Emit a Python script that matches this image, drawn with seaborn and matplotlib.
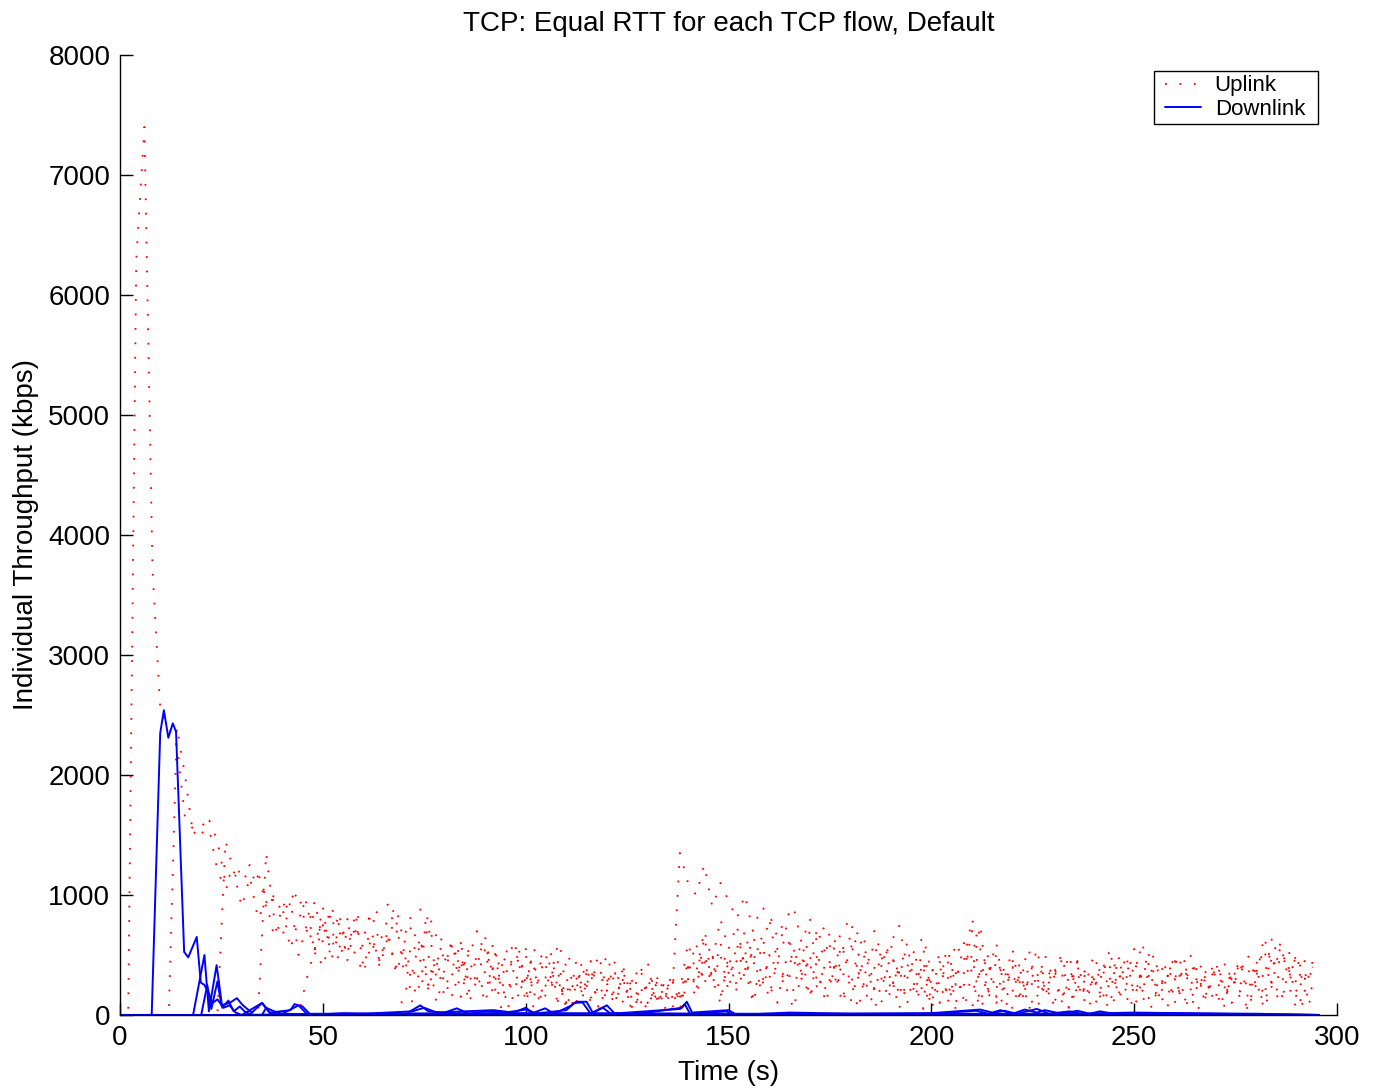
import numpy as np
import pandas as pd
import matplotlib
matplotlib.use("Agg")
import matplotlib.pyplot as plt
import seaborn as sns
from matplotlib.lines import Line2D
from matplotlib.patches import Rectangle

# ---------------- data (kbps), uplink flows sampled every 2 s from t=0 ----------------
UP_STEP = 2

uplink_1 = [
    0, 0, 6300, 7400, 3700, 2500, 2400, 2250, 1650, 1550,
    1500, 1620, 1450, 1100, 1220, 1180, 1250, 1150, 1000, 950,
    900, 1000, 950, 880, 800, 650, 900, 750, 700, 800,
    850, 780, 900, 920, 700, 650, 850, 880, 700, 600,
    650, 550, 600, 480, 700, 500, 550, 400, 600, 450,
    550, 350, 500, 300, 600, 400, 250, 450, 300, 500,
    200, 450, 350, 250, 400, 200, 350, 150, 300, 100,
    400, 250, 500, 300, 600, 350, 450, 700, 400, 650,
    300, 550, 750, 400, 600, 350, 700, 500, 650, 300,
    550, 700, 400, 600, 250, 500, 350, 600, 200, 450,
    100, 350, 550, 250, 600, 350, 750, 200, 450, 300,
    550, 150, 400, 250, 500, 300, 450, 200, 400, 250,
    500, 300, 550, 150, 400, 350, 600, 250, 450, 300,
    500, 200, 400, 350, 300, 450, 200, 400, 250, 350,
    450, 300, 650, 400, 550, 250, 450, 300,
]

uplink_2 = [
    0, 0, 0, 0, 0, 0, 0, 2400, 2000, 1500,
    1600, 1550, 1200, 1050, 1150, 1200, 1100, 1200, 900, 1000,
    850, 950, 1020, 700, 950, 600, 850, 550, 800, 700,
    650, 850, 600, 800, 900, 600, 750, 500, 850, 650,
    450, 600, 350, 550, 450, 650, 300, 500, 400, 600,
    250, 550, 400, 550, 200, 450, 500, 150, 400, 300,
    500, 250, 400, 150, 350, 450, 100, 300, 200, 50,
    300, 150, 450, 250, 500, 200, 600, 300, 550, 200,
    500, 350, 250, 550, 300, 500, 200, 450, 350, 600,
    250, 450, 150, 400, 550, 200, 450, 300, 500, 150,
    400, 250, 450, 100, 350, 700, 300, 500, 150, 400,
    250, 450, 200, 350, 150, 400, 300, 500, 150, 350,
    250, 400, 200, 450, 300, 550, 200, 400, 150, 450,
    300, 500, 200, 350, 150, 400, 300, 200, 450, 150,
    350, 550, 250, 600, 300, 500, 200, 450,
]

uplink_3 = [
    0, 0, 0, 0, 0, 0, 0, 0, 0, 0,
    0, 0, 0, 1450, 1200, 900, 1150, 800, 950, 650,
    900, 550, 800, 950, 500, 750, 600, 850, 450, 750,
    550, 700, 400, 650, 800, 350, 600, 450, 750, 300,
    550, 400, 600, 250, 500, 350, 600, 200, 450, 300,
    500, 150, 400, 250, 450, 100, 350, 250, 450, 150,
    300, 100, 350, 200, 50, 300, 150, 250, 50, 200,
    600, 350, 700, 450, 800, 550, 750, 400, 650, 500,
    800, 450, 650, 550, 350, 700, 450, 600, 250, 500,
    650, 300, 550, 200, 450, 600, 150, 400, 300, 550,
    200, 450, 150, 400, 250, 500, 100, 350, 600, 200,
    400, 100, 300, 550, 200, 350, 100, 300, 450, 150,
    350, 100, 400, 250, 500, 150, 350, 450, 200, 350,
    100, 400, 250, 450, 200, 350, 100, 300, 450, 200,
    400, 150, 500, 250, 400, 150, 350, 200,
]

uplink_4 = [
    0, 0, 0, 0, 0, 0, 0, 0, 0, 0,
    0, 0, 0, 0, 0, 0, 0, 0, 1350, 800,
    650, 950, 500, 750, 550, 900, 450, 700, 500, 850,
    400, 650, 450, 700, 350, 550, 350, 650, 200, 500,
    350, 600, 150, 450, 300, 550, 150, 400, 250, 500,
    100, 350, 200, 450, 100, 300, 200, 400, 100, 250,
    350, 150, 300, 50, 250, 100, 300, 50, 100, 1350,
    1100, 1000, 1250, 900, 1100, 950, 800, 1000, 700, 900,
    850, 650, 800, 900, 600, 800, 650, 750, 550, 700,
    800, 500, 650, 700, 450, 600, 750, 400, 550, 650,
    350, 500, 300, 600, 450, 800, 550, 350, 500, 250,
    450, 350, 550, 200, 400, 300, 500, 250, 450, 350,
    200, 450, 300, 500, 250, 400, 300, 550, 350, 250,
    450, 300, 500, 200, 400, 300, 450, 250, 350, 500,
    300, 650, 400, 550, 350, 500, 300, 400,
]

uplink_5 = [
    0, 0, 0, 0, 0, 0, 0, 0, 0, 0,
    0, 0, 0, 0, 0, 0, 0, 0, 0, 0,
    0, 0, 0, 300, 550, 400, 650, 450, 700, 500,
    350, 600, 450, 650, 400, 550, 100, 400, 250, 450,
    150, 350, 500, 200, 350, 100, 400, 250, 50, 300,
    150, 400, 100, 250, 350, 50, 300, 150, 350, 50,
    250, 350, 100, 300, 150, 50, 250, 100, 350, 50,
    350, 600, 250, 500, 150, 450, 250, 550, 150, 400,
    250, 100, 450, 200, 500, 150, 350, 100, 400, 200,
    100, 350, 250, 50, 300, 150, 400, 100, 250, 50,
    300, 100, 250, 50, 150, 300, 50, 200, 100, 250,
    50, 300, 150, 50, 250, 100, 200, 50, 250, 100,
    300, 150, 50, 200, 100, 300, 150, 50, 250, 150,
    300, 100, 200, 50, 250, 150, 300, 100, 200, 50,
    250, 100, 300, 150, 250, 50, 200, 100,
]

uplink_6 = [
    0, 0, 0, 0, 0, 0, 0, 0, 0, 0,
    0, 0, 0, 0, 0, 0, 0, 0, 0, 0,
    0, 0, 0, 0, 0, 0, 0, 0, 0, 0,
    0, 0, 0, 0, 0, 150, 400, 200, 500, 100,
    350, 150, 450, 100, 300, 200, 400, 50, 250, 150,
    350, 50, 200, 300, 100, 250, 50, 300, 150, 50,
    200, 100, 300, 50, 150, 250, 100, 200, 50, 150,
    450, 200, 650, 300, 100, 500, 200, 400, 100, 350,
    150, 450, 250, 50, 350, 150, 500, 200, 400, 100,
    300, 50, 400, 200, 100, 350, 50, 250, 150, 400,
    50, 250, 100, 350, 150, 50, 400, 150, 250, 50,
    200, 350, 50, 150, 300, 100, 250, 50, 350, 150,
    50, 250, 100, 350, 200, 50, 300, 100, 200, 50,
    250, 150, 50, 300, 100, 200, 50, 350, 150, 50,
    300, 50, 250, 100, 350, 200, 50, 150,
]

# ---------------- downlink flows: (time s, kbps) breakpoints ----------------
down_1_t = [0, 7.8, 9.9, 10.8, 11.9, 13.0, 13.8, 15.8, 16.8, 18.9, 19.9, 20.8, 21.9,
            22.8, 24.0, 25.5, 27.0, 28.5, 30.0, 60, 100, 150, 200, 250, 295.5]
down_1_v = [0, 0, 2350, 2540, 2310, 2430, 2360, 525, 480, 650, 270, 250, 180,
            100, 130, 60, 80, 20, 0, 10, 15, 10, 10, 10, 0]

down_2_t = [0, 18.0, 20.8, 21.9, 23.8, 25.2, 26.7, 28.0, 29.5, 31.0, 33.0, 60, 120, 200, 295.5]
down_2_v = [0, 0, 500, 30, 415, 60, 120, 30, 70, 20, 0, 10, 10, 5, 0]

down_3_t = [0, 20.0, 21.5, 22.5, 24.0, 25.0, 27.0, 28.8, 30.0, 31.0, 32.5, 35.0, 37.0,
            60, 120, 200, 295.5]
down_3_v = [0, 0, 250, 50, 280, 80, 100, 140, 90, 60, 20, 100, 10,
            5, 10, 5, 0]

down_4_t = [0, 30, 33, 35, 37, 42, 43, 45, 47, 55, 70, 72, 74, 76, 80, 83, 86, 90,
            95, 100, 102, 104.8, 107, 111, 112.5, 115, 116.5, 120, 122, 130, 138.5,
            139.7, 141, 150, 152, 165, 180, 200, 212, 215, 217, 220, 223, 226, 228,
            232, 236, 239, 241.5, 245, 260, 280, 295.5]
down_4_v = [0, 0, 60, 100, 20, 40, 90, 70, 0, 15, 0, 40, 80, 30, 20, 55, 10, 30,
            20, 45, 20, 55, 10, 75, 110, 110, 20, 80, 10, 20, 60,
            110, 20, 40, 0, 20, 10, 15, 45, 20, 40, 10, 45, 20, 40,
            10, 35, 10, 30, 10, 15, 10, 0]

down_5_t = [0, 35, 36, 38, 40, 44, 46, 60, 72, 75, 78, 85, 92, 97, 100, 102, 110,
            112, 114, 116, 119, 121, 138, 139.2, 140.5, 149.5, 151, 170, 200, 211,
            214, 218, 221, 226, 229, 234, 237, 250, 270, 295.5]
down_5_v = [0, 0, 60, 30, 10, 80, 10, 10, 30, 60, 20, 30, 40, 20, 60, 10, 40,
            100, 105, 10, 60, 10, 50, 90, 10, 30, 0, 10, 10, 35,
            10, 35, 10, 50, 10, 30, 10, 20, 10, 0]

up_series = {"u1": uplink_1, "u2": uplink_2, "u3": uplink_3, "u4": uplink_4,
             "u5": uplink_5, "u6": uplink_6}
down_series = {"d1": (down_1_t, down_1_v), "d2": (down_2_t, down_2_v),
               "d3": (down_3_t, down_3_v), "d4": (down_4_t, down_4_v),
               "d5": (down_5_t, down_5_v)}

up_frames = []
for name, vals in up_series.items():
    assert len(vals) == 148, (name, len(vals))
    up_frames.append(pd.DataFrame({"time": np.arange(len(vals)) * UP_STEP,
                                   "kbps": vals, "flow": name}))
up_df = pd.concat(up_frames, ignore_index=True)

down_frames = []
for name, (ts, vs) in down_series.items():
    assert len(ts) == len(vs), (name, len(ts), len(vs))
    down_frames.append(pd.DataFrame({"time": ts, "kbps": vs, "flow": name}))
down_df = pd.concat(down_frames, ignore_index=True)

# ---------------- plot ----------------
sns.set_style("ticks")
plt.rcParams['font.family'] = ['Liberation Sans', 'DejaVu Sans']
for k in ["text.color", "axes.labelcolor", "xtick.color", "ytick.color", "axes.edgecolor"]:
    plt.rcParams[k] = "black"

fig = plt.figure(figsize=(13.8, 10.91), dpi=100)
ax = fig.add_axes([0.087, 0.0697, 0.8819, 0.8799])

DOT = (0, (1, 7))
sns.lineplot(data=up_df, x="time", y="kbps", units="flow", estimator=None,
             color="#ff0000", linewidth=1.3, linestyle=DOT, ax=ax, legend=False)
sns.lineplot(data=down_df, x="time", y="kbps", units="flow", estimator=None,
             color="#0000ff", linewidth=1.4, ax=ax, legend=False)

ax.set_xlim(0, 300)
ax.set_ylim(0, 8000)
ax.set_xticks(np.arange(0, 301, 50))
ax.set_yticks(np.arange(0, 8001, 1000))
ax.tick_params(direction="in", length=9, width=1, labelsize=20, pad=7,
               color="black", labelcolor="black")
for s in ["top", "right"]:
    ax.spines[s].set_visible(False)
for s in ["left", "bottom"]:
    ax.spines[s].set_color("black")
    ax.spines[s].set_linewidth(1)

ax.set_title("TCP: Equal RTT for each TCP flow, Default", fontsize=20, pad=17, color="black")
ax.set_xlabel("Time (s)", fontsize=20, labelpad=7, color="black")
ax.set_ylabel("Individual Throughput (kbps)", fontsize=20, labelpad=7, color="black")

h_up = Line2D([], [], color="#ff0000", linewidth=1.3, linestyle=DOT)
h_down = Line2D([], [], color="#0000ff", linewidth=1.4)
leg = ax.legend([h_up, h_down], ["Uplink", "Downlink"], loc="upper right",
                bbox_to_anchor=(0.9773, 0.9833), borderaxespad=0, fontsize=16,
                frameon=False, handlelength=1.62, labelspacing=0.1,
                borderpad=0.2, handletextpad=0.63)
for t in leg.get_texts():
    t.set_color("black")

# frame around the legend with a little extra horizontal room
fig.canvas.draw()
bb = leg.get_window_extent()
inv = ax.transAxes.inverted()
(x0, y0), (x1, y1) = inv.transform([(bb.x0 - 6.5, bb.y0), (bb.x1 + 8.5, bb.y1)])
ax.add_patch(Rectangle((x0, y0), x1 - x0, y1 - y0, transform=ax.transAxes,
                       facecolor="white", edgecolor="black", linewidth=1,
                       zorder=4.5, clip_on=False))

fig.savefig("out.png", dpi=100)
